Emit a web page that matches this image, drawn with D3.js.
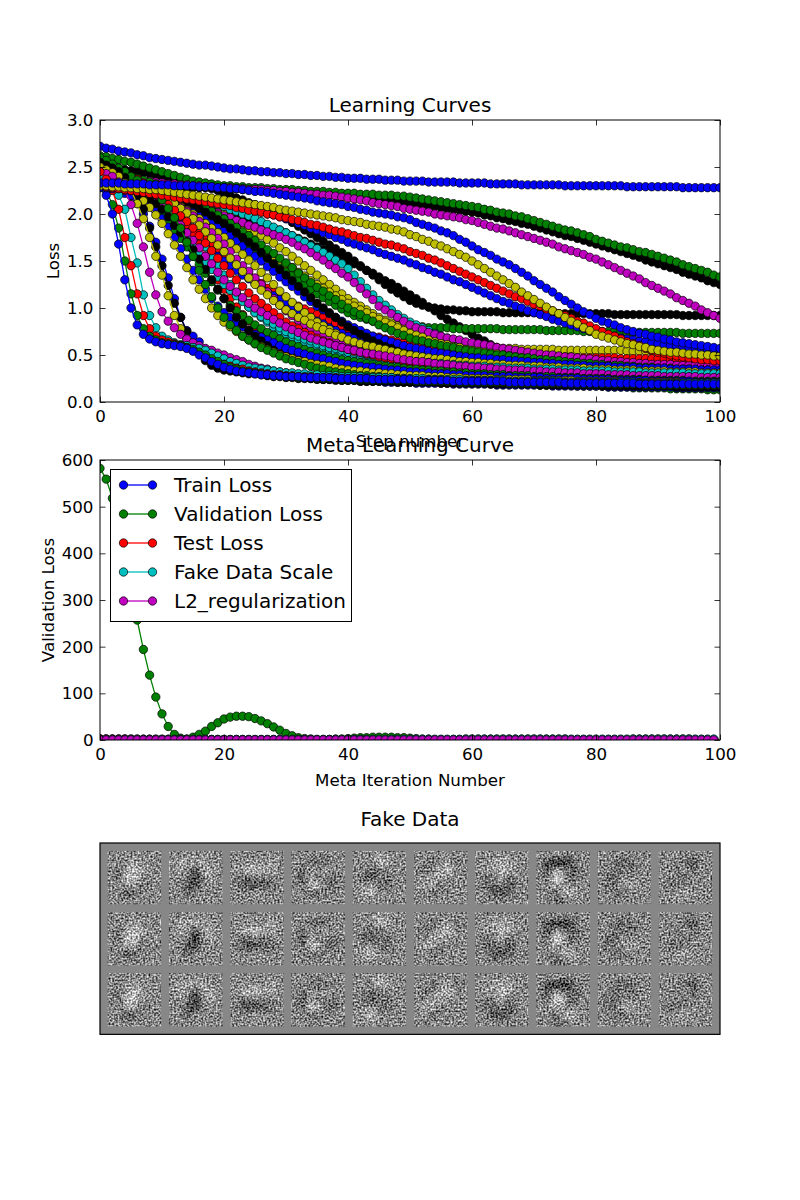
<!DOCTYPE html>
<html>
<head>
<meta charset="utf-8">
<script src="https://cdn.jsdelivr.net/npm/d3@7"></script>
<style>
body { margin: 0; background: #fff; }
text { font-family: "DejaVu Sans", sans-serif; fill: #000; }
</style>
</head>
<body>
<svg id="fig" width="800" height="1200"></svg>
<script>
// ---- Learning curves: one array per inner run, loss at each step 0..100
const curveA = [2.72,2.70,2.69,2.67,2.66,2.65,2.63,2.62,2.60,2.59,2.58,
2.57,2.56,2.55,2.54,2.53,2.52,2.52,2.51,2.50,2.49,
2.48,2.48,2.47,2.46,2.46,2.45,2.45,2.44,2.44,2.43,
2.43,2.42,2.42,2.41,2.41,2.40,2.40,2.39,2.39,2.38,
2.38,2.38,2.37,2.37,2.37,2.36,2.36,2.36,2.35,2.35,
2.35,2.35,2.34,2.34,2.34,2.34,2.34,2.33,2.33,2.33,
2.33,2.33,2.32,2.32,2.32,2.32,2.32,2.31,2.31,2.31,
2.31,2.31,2.31,2.31,2.30,2.30,2.30,2.30,2.30,2.30,
2.30,2.30,2.30,2.30,2.29,2.29,2.29,2.29,2.29,2.29,
2.29,2.29,2.29,2.28,2.28,2.28,2.28,2.28,2.28,2.28]
const curveB = [2.62,2.61,2.59,2.58,2.56,2.55,2.53,2.51,2.49,2.47,2.45,
2.43,2.41,2.39,2.37,2.35,2.34,2.33,2.32,2.31,2.30,
2.30,2.29,2.29,2.28,2.28,2.28,2.27,2.27,2.26,2.26,
2.26,2.25,2.25,2.24,2.24,2.24,2.23,2.23,2.22,2.22,
2.22,2.21,2.21,2.21,2.20,2.20,2.20,2.19,2.19,2.18,
2.17,2.16,2.15,2.14,2.13,2.12,2.11,2.10,2.09,2.08,
2.07,2.05,2.04,2.02,2.01,2.00,1.98,1.97,1.95,1.93,
1.91,1.89,1.87,1.85,1.83,1.82,1.80,1.78,1.76,1.73,
1.71,1.69,1.67,1.65,1.64,1.62,1.60,1.59,1.57,1.55,
1.53,1.51,1.49,1.46,1.44,1.42,1.40,1.38,1.35,1.33]
const curveC = [2.30,2.30,2.30,2.30,2.30,2.30,2.29,2.29,2.29,2.29,2.29,
2.29,2.29,2.28,2.28,2.28,2.28,2.28,2.27,2.27,2.27,
2.27,2.27,2.26,2.26,2.26,2.25,2.25,2.25,2.24,2.24,
2.24,2.24,2.23,2.23,2.22,2.22,2.22,2.21,2.21,2.20,
2.19,2.18,2.18,2.17,2.16,2.15,2.15,2.14,2.13,2.12,
2.11,2.10,2.09,2.08,2.07,2.06,2.05,2.04,2.03,2.02,
2.01,1.99,1.98,1.96,1.95,1.93,1.92,1.90,1.89,1.87,
1.85,1.83,1.81,1.79,1.77,1.76,1.74,1.72,1.70,1.68,
1.66,1.64,1.62,1.60,1.58,1.56,1.54,1.51,1.49,1.47,
1.45,1.43,1.41,1.38,1.36,1.34,1.32,1.29,1.27,1.25]
const curveD = [2.40,2.39,2.39,2.38,2.37,2.37,2.36,2.35,2.35,2.34,2.33,
2.32,2.32,2.31,2.31,2.30,2.30,2.29,2.29,2.28,2.28,
2.28,2.27,2.27,2.26,2.26,2.26,2.25,2.25,2.24,2.24,
2.23,2.23,2.22,2.21,2.21,2.20,2.20,2.19,2.18,2.17,
2.16,2.15,2.14,2.12,2.11,2.10,2.09,2.08,2.06,2.05,
2.04,2.03,2.02,2.00,1.99,1.98,1.97,1.96,1.94,1.93,
1.91,1.89,1.87,1.85,1.84,1.82,1.80,1.78,1.76,1.74,
1.72,1.70,1.68,1.65,1.63,1.61,1.59,1.57,1.54,1.52,
1.49,1.46,1.43,1.40,1.37,1.34,1.31,1.27,1.24,1.21,
1.18,1.15,1.11,1.08,1.05,1.02,0.98,0.95,0.92,0.89]
const curveE = [2.33,2.33,2.33,2.33,2.32,2.32,2.32,2.32,2.31,2.31,2.31,
2.31,2.30,2.30,2.30,2.30,2.29,2.29,2.29,2.28,2.28,
2.27,2.27,2.26,2.25,2.24,2.24,2.23,2.22,2.21,2.20,
2.19,2.18,2.17,2.16,2.14,2.13,2.12,2.11,2.10,2.08,
2.07,2.05,2.04,2.02,2.01,2.00,1.99,1.97,1.96,1.94,
1.91,1.89,1.87,1.85,1.82,1.80,1.77,1.73,1.70,1.66,
1.62,1.59,1.56,1.52,1.49,1.46,1.42,1.38,1.34,1.29,
1.25,1.21,1.17,1.12,1.08,1.04,1.00,0.96,0.93,0.89,
0.86,0.84,0.82,0.79,0.77,0.75,0.73,0.72,0.70,0.69,
0.67,0.66,0.64,0.63,0.62,0.61,0.60,0.59,0.58,0.57]
const curveF = [2.30,2.30,2.29,2.29,2.28,2.28,2.27,2.27,2.26,2.26,2.25,
2.24,2.23,2.22,2.21,2.20,2.19,2.18,2.17,2.16,2.15,
2.14,2.13,2.12,2.11,2.10,2.09,2.08,2.07,2.05,2.04,
2.03,2.02,2.01,2.00,1.99,1.98,1.97,1.96,1.94,1.93,
1.92,1.91,1.89,1.88,1.87,1.86,1.84,1.83,1.81,1.78,
1.76,1.73,1.71,1.68,1.66,1.63,1.60,1.57,1.54,1.50,
1.46,1.42,1.38,1.34,1.30,1.26,1.22,1.17,1.13,1.09,
1.05,1.01,0.97,0.94,0.90,0.86,0.83,0.79,0.76,0.72,
0.70,0.68,0.66,0.64,0.62,0.61,0.59,0.58,0.56,0.55,
0.54,0.53,0.53,0.52,0.51,0.51,0.50,0.50,0.49,0.49]
const curveG = [2.30,2.29,2.28,2.27,2.26,2.25,2.24,2.23,2.22,2.21,2.20,
2.19,2.18,2.17,2.16,2.15,2.14,2.13,2.12,2.11,2.10,
2.09,2.07,2.06,2.04,2.03,2.02,2.00,1.99,1.97,1.96,
1.94,1.93,1.91,1.89,1.88,1.86,1.84,1.82,1.81,1.79,
1.77,1.75,1.74,1.72,1.70,1.68,1.67,1.65,1.63,1.60,
1.58,1.56,1.53,1.51,1.48,1.45,1.42,1.39,1.36,1.33,
1.30,1.27,1.24,1.21,1.18,1.15,1.12,1.10,1.07,1.04,
1.02,0.99,0.97,0.94,0.92,0.89,0.86,0.84,0.81,0.78,
0.75,0.72,0.70,0.67,0.64,0.62,0.60,0.57,0.55,0.53,
0.52,0.50,0.49,0.48,0.47,0.46,0.45,0.45,0.44,0.44]
const curveH = [2.28,2.28,2.27,2.27,2.26,2.25,2.25,2.24,2.24,2.23,2.22,
2.21,2.20,2.19,2.18,2.17,2.16,2.15,2.14,2.13,2.12,
2.10,2.09,2.07,2.05,2.04,2.02,2.00,1.99,1.97,1.95,
1.93,1.90,1.88,1.85,1.83,1.80,1.78,1.75,1.73,1.70,
1.68,1.66,1.64,1.62,1.59,1.57,1.55,1.53,1.51,1.48,
1.46,1.43,1.41,1.38,1.36,1.33,1.30,1.28,1.25,1.22,
1.19,1.16,1.13,1.10,1.07,1.05,1.02,1.00,0.97,0.95,
0.93,0.91,0.88,0.86,0.84,0.82,0.80,0.78,0.76,0.74,
0.73,0.71,0.70,0.68,0.67,0.66,0.65,0.64,0.63,0.62,
0.61,0.60,0.60,0.59,0.58,0.58,0.57,0.56,0.56,0.55]
const curveI = [2.52,2.51,2.50,2.49,2.47,2.46,2.45,2.44,2.43,2.41,2.40,
2.39,2.38,2.36,2.35,2.33,2.32,2.30,2.28,2.25,2.22,
2.20,2.17,2.15,2.12,2.10,2.07,2.04,2.01,1.98,1.95,
1.91,1.87,1.83,1.79,1.75,1.71,1.67,1.63,1.59,1.55,
1.50,1.45,1.40,1.35,1.30,1.25,1.20,1.16,1.12,1.08,
1.05,1.03,1.01,1.00,0.99,0.98,0.98,0.97,0.97,0.96,
0.96,0.96,0.96,0.96,0.95,0.95,0.95,0.95,0.95,0.95,
0.95,0.95,0.94,0.94,0.94,0.94,0.94,0.94,0.94,0.94,
0.94,0.94,0.93,0.93,0.93,0.93,0.93,0.93,0.93,0.93,
0.93,0.93,0.93,0.92,0.92,0.92,0.92,0.92,0.92,0.92]
const curveJ = [2.35,2.34,2.33,2.32,2.31,2.30,2.28,2.27,2.25,2.22,2.20,
2.17,2.14,2.11,2.07,2.04,2.00,1.96,1.93,1.89,1.85,
1.80,1.76,1.71,1.67,1.62,1.58,1.54,1.49,1.45,1.40,
1.35,1.30,1.25,1.20,1.15,1.11,1.07,1.03,0.99,0.95,
0.92,0.90,0.88,0.86,0.84,0.83,0.82,0.81,0.81,0.80,
0.80,0.80,0.79,0.79,0.79,0.79,0.78,0.78,0.78,0.78,
0.78,0.78,0.78,0.78,0.77,0.77,0.77,0.77,0.77,0.77,
0.77,0.76,0.76,0.76,0.76,0.76,0.76,0.75,0.75,0.75,
0.75,0.75,0.75,0.75,0.74,0.74,0.74,0.74,0.74,0.74,
0.74,0.74,0.74,0.73,0.73,0.73,0.73,0.73,0.73,0.73]
const curveK = [2.35,2.35,2.34,2.34,2.33,2.32,2.31,2.30,2.29,2.27,2.25,
2.23,2.21,2.19,2.17,2.15,2.13,2.11,2.09,2.07,2.05,
2.03,2.00,1.98,1.95,1.93,1.90,1.88,1.85,1.83,1.80,
1.77,1.74,1.71,1.68,1.65,1.62,1.59,1.56,1.53,1.50,
1.47,1.44,1.40,1.37,1.33,1.29,1.26,1.22,1.18,1.14,
1.10,1.06,1.01,0.97,0.92,0.88,0.84,0.80,0.76,0.72,
0.68,0.65,0.61,0.58,0.55,0.52,0.50,0.48,0.46,0.45,
0.44,0.43,0.42,0.41,0.41,0.40,0.40,0.39,0.39,0.38,
0.38,0.38,0.37,0.37,0.37,0.36,0.36,0.36,0.36,0.35,
0.35,0.35,0.35,0.34,0.34,0.34,0.34,0.33,0.33,0.33]
const curveL = [2.30,2.30,2.29,2.28,2.27,2.26,2.25,2.24,2.23,2.21,2.20,
2.18,2.16,2.14,2.12,2.10,2.08,2.06,2.04,2.02,2.00,
1.97,1.93,1.89,1.85,1.81,1.77,1.73,1.69,1.64,1.60,
1.55,1.50,1.45,1.40,1.35,1.30,1.25,1.20,1.15,1.10,
1.06,1.02,0.98,0.94,0.90,0.87,0.84,0.81,0.78,0.75,
0.73,0.71,0.69,0.67,0.65,0.64,0.63,0.62,0.61,0.60,
0.59,0.59,0.58,0.58,0.57,0.57,0.57,0.56,0.56,0.56,
0.56,0.56,0.56,0.55,0.55,0.55,0.55,0.55,0.55,0.55,
0.55,0.55,0.55,0.55,0.54,0.54,0.54,0.54,0.54,0.54,
0.54,0.54,0.54,0.53,0.53,0.53,0.53,0.53,0.53,0.53]
const curveM = [2.55,2.53,2.50,2.47,2.44,2.40,2.36,2.31,2.26,2.21,2.15,
2.09,2.03,1.97,1.91,1.85,1.79,1.73,1.67,1.61,1.55,
1.50,1.45,1.40,1.35,1.30,1.26,1.21,1.17,1.12,1.08,
1.05,1.02,0.99,0.96,0.93,0.90,0.87,0.84,0.81,0.78,
0.76,0.74,0.72,0.70,0.69,0.67,0.66,0.64,0.63,0.62,
0.61,0.60,0.59,0.58,0.57,0.56,0.55,0.55,0.54,0.53,
0.53,0.52,0.52,0.51,0.51,0.50,0.50,0.50,0.49,0.49,
0.49,0.48,0.48,0.48,0.48,0.48,0.47,0.47,0.47,0.47,
0.47,0.47,0.47,0.46,0.46,0.46,0.46,0.46,0.46,0.46,
0.46,0.46,0.46,0.45,0.45,0.45,0.45,0.45,0.45,0.45]
const curveN = [2.28,2.27,2.26,2.24,2.22,2.19,2.16,2.13,2.09,2.05,2.00,
1.95,1.90,1.85,1.80,1.75,1.70,1.65,1.60,1.55,1.50,
1.45,1.40,1.35,1.31,1.26,1.22,1.17,1.13,1.09,1.05,
1.01,0.97,0.93,0.90,0.86,0.83,0.79,0.76,0.73,0.70,
0.68,0.65,0.63,0.61,0.59,0.57,0.55,0.53,0.52,0.50,
0.49,0.47,0.46,0.45,0.44,0.43,0.42,0.41,0.41,0.40,
0.39,0.39,0.38,0.38,0.37,0.37,0.36,0.36,0.35,0.35,
0.35,0.35,0.34,0.34,0.34,0.34,0.34,0.33,0.33,0.33,
0.33,0.33,0.32,0.32,0.32,0.32,0.32,0.31,0.31,0.31,
0.31,0.31,0.31,0.31,0.30,0.30,0.30,0.30,0.30,0.30]
const curveP = [2.35,2.34,2.33,2.32,2.31,2.30,2.29,2.28,2.27,2.26,2.25,
2.23,2.22,2.20,2.19,2.17,2.15,2.13,2.12,2.10,2.08,
2.05,2.03,2.00,1.98,1.95,1.92,1.89,1.86,1.83,1.80,
1.77,1.73,1.70,1.66,1.63,1.59,1.55,1.51,1.47,1.42,
1.35,1.28,1.21,1.14,1.08,1.03,0.98,0.93,0.89,0.85,
0.82,0.79,0.76,0.73,0.70,0.68,0.66,0.64,0.62,0.60,
0.59,0.57,0.56,0.55,0.54,0.53,0.52,0.51,0.50,0.48,
0.48,0.47,0.46,0.46,0.45,0.44,0.44,0.43,0.43,0.42,
0.42,0.41,0.41,0.41,0.40,0.40,0.40,0.40,0.39,0.39,
0.39,0.39,0.38,0.38,0.38,0.38,0.38,0.37,0.37,0.37]
const curveQ = [2.40,2.39,2.38,2.37,2.35,2.34,2.32,2.31,2.29,2.27,2.25,
2.22,2.20,2.17,2.14,2.12,2.09,2.06,2.04,2.01,1.98,
1.96,1.93,1.91,1.88,1.86,1.83,1.81,1.78,1.76,1.73,
1.70,1.66,1.63,1.59,1.55,1.51,1.46,1.42,1.37,1.33,
1.27,1.21,1.15,1.09,1.02,0.98,0.94,0.90,0.86,0.82,
0.79,0.77,0.74,0.72,0.70,0.68,0.67,0.66,0.64,0.63,
0.62,0.61,0.60,0.58,0.57,0.56,0.55,0.54,0.53,0.52,
0.51,0.50,0.50,0.49,0.48,0.48,0.47,0.46,0.46,0.45,
0.44,0.44,0.43,0.43,0.42,0.42,0.41,0.41,0.40,0.40,
0.40,0.40,0.39,0.39,0.39,0.39,0.38,0.38,0.38,0.38]
const curveR = [2.30,2.29,2.28,2.27,2.25,2.24,2.22,2.21,2.19,2.17,2.15,
2.12,2.09,2.06,2.03,2.00,1.97,1.94,1.91,1.88,1.85,
1.81,1.78,1.74,1.71,1.67,1.63,1.59,1.55,1.51,1.47,
1.43,1.38,1.34,1.29,1.25,1.21,1.17,1.13,1.09,1.05,
1.02,0.98,0.95,0.91,0.88,0.85,0.82,0.79,0.76,0.73,
0.71,0.69,0.66,0.64,0.62,0.61,0.59,0.58,0.56,0.55,
0.54,0.53,0.52,0.51,0.50,0.49,0.48,0.47,0.46,0.45,
0.44,0.44,0.43,0.42,0.41,0.41,0.40,0.39,0.39,0.38,
0.37,0.37,0.36,0.36,0.35,0.35,0.34,0.33,0.33,0.32,
0.32,0.31,0.31,0.31,0.30,0.30,0.29,0.29,0.28,0.28]
const curveS1 = [2.40,2.38,2.35,2.32,2.29,2.25,2.20,2.14,2.07,1.99,1.90,
1.79,1.67,1.55,1.43,1.30,1.20,1.10,1.00,0.92,0.85,
0.80,0.75,0.70,0.66,0.62,0.59,0.56,0.53,0.50,0.48,
0.46,0.44,0.43,0.41,0.40,0.39,0.38,0.36,0.35,0.34,
0.33,0.33,0.32,0.31,0.31,0.30,0.30,0.29,0.29,0.28,
0.28,0.28,0.27,0.27,0.27,0.26,0.26,0.26,0.25,0.25,
0.25,0.25,0.25,0.24,0.24,0.24,0.24,0.24,0.24,0.23,
0.23,0.23,0.23,0.23,0.23,0.23,0.22,0.22,0.22,0.22,
0.22,0.22,0.22,0.21,0.21,0.21,0.21,0.21,0.21,0.21,
0.21,0.21,0.21,0.20,0.20,0.20,0.20,0.20,0.20,0.20]
const curveS2 = [2.45,2.43,2.40,2.37,2.34,2.30,2.25,2.19,2.13,2.07,2.00,
1.92,1.83,1.74,1.65,1.55,1.46,1.37,1.28,1.19,1.10,
1.03,0.97,0.92,0.87,0.82,0.78,0.74,0.71,0.67,0.64,
0.61,0.59,0.56,0.54,0.52,0.50,0.48,0.47,0.45,0.44,
0.43,0.42,0.41,0.40,0.39,0.38,0.37,0.37,0.36,0.35,
0.35,0.34,0.34,0.33,0.33,0.32,0.32,0.31,0.31,0.30,
0.30,0.30,0.29,0.29,0.29,0.28,0.28,0.28,0.28,0.27,
0.27,0.27,0.27,0.26,0.26,0.26,0.26,0.25,0.25,0.25,
0.25,0.25,0.24,0.24,0.24,0.24,0.24,0.23,0.23,0.23,
0.23,0.23,0.23,0.23,0.22,0.22,0.22,0.22,0.22,0.22]
const curveS3 = [2.50,2.48,2.46,2.44,2.41,2.38,2.33,2.28,2.22,2.16,2.10,
2.03,1.95,1.88,1.80,1.72,1.64,1.55,1.47,1.38,1.30,
1.23,1.17,1.11,1.05,1.00,0.96,0.92,0.88,0.84,0.80,
0.77,0.74,0.71,0.68,0.66,0.64,0.62,0.60,0.58,0.56,
0.55,0.53,0.52,0.51,0.50,0.49,0.48,0.46,0.45,0.44,
0.43,0.43,0.42,0.41,0.40,0.40,0.39,0.38,0.38,0.37,
0.37,0.36,0.36,0.35,0.35,0.34,0.34,0.34,0.33,0.33,
0.33,0.32,0.32,0.32,0.31,0.31,0.31,0.30,0.30,0.30,
0.30,0.29,0.29,0.29,0.29,0.28,0.28,0.28,0.28,0.28,
0.27,0.27,0.27,0.27,0.27,0.27,0.26,0.26,0.26,0.26]
const curveS4 = [2.40,2.38,2.36,2.34,2.31,2.28,2.24,2.20,2.16,2.11,2.05,
1.97,1.88,1.80,1.71,1.62,1.52,1.41,1.30,1.20,1.10,
1.00,0.90,0.83,0.76,0.70,0.65,0.60,0.55,0.51,0.48,
0.46,0.44,0.42,0.40,0.38,0.37,0.36,0.34,0.33,0.32,
0.31,0.31,0.30,0.29,0.29,0.28,0.28,0.27,0.27,0.26,
0.26,0.26,0.25,0.25,0.25,0.24,0.24,0.24,0.23,0.23,
0.23,0.23,0.23,0.22,0.22,0.22,0.22,0.22,0.22,0.21,
0.21,0.21,0.21,0.21,0.21,0.21,0.20,0.20,0.20,0.20,
0.20,0.20,0.20,0.20,0.20,0.19,0.19,0.19,0.19,0.19,
0.19,0.19,0.19,0.19,0.19,0.18,0.18,0.18,0.18,0.18]
const curveS5 = [2.45,2.43,2.41,2.39,2.37,2.35,2.32,2.28,2.24,2.20,2.15,
2.10,2.04,1.98,1.92,1.85,1.77,1.69,1.61,1.53,1.45,
1.37,1.30,1.23,1.16,1.10,1.05,1.00,0.95,0.90,0.85,
0.81,0.78,0.74,0.71,0.68,0.65,0.63,0.60,0.58,0.56,
0.54,0.53,0.51,0.50,0.48,0.47,0.46,0.45,0.43,0.42,
0.41,0.41,0.40,0.39,0.38,0.38,0.37,0.36,0.36,0.35,
0.35,0.34,0.34,0.33,0.33,0.32,0.32,0.32,0.31,0.31,
0.31,0.30,0.30,0.30,0.29,0.29,0.29,0.29,0.28,0.28,
0.28,0.28,0.27,0.27,0.27,0.27,0.26,0.26,0.26,0.26,
0.26,0.25,0.25,0.25,0.25,0.25,0.24,0.24,0.24,0.24]
const curveS6 = [2.35,2.33,2.31,2.29,2.27,2.25,2.21,2.16,2.10,2.03,1.95,
1.86,1.75,1.63,1.52,1.40,1.30,1.20,1.10,1.02,0.95,
0.90,0.85,0.80,0.76,0.72,0.69,0.66,0.63,0.60,0.57,
0.55,0.53,0.51,0.49,0.47,0.46,0.44,0.43,0.41,0.40,
0.39,0.38,0.37,0.37,0.36,0.35,0.34,0.34,0.33,0.32,
0.32,0.31,0.31,0.30,0.30,0.30,0.29,0.29,0.28,0.28,
0.28,0.28,0.27,0.27,0.27,0.27,0.26,0.26,0.26,0.26,
0.26,0.25,0.25,0.25,0.25,0.25,0.25,0.24,0.24,0.24,
0.24,0.24,0.23,0.23,0.23,0.23,0.23,0.23,0.22,0.22,
0.22,0.22,0.22,0.22,0.22,0.21,0.21,0.21,0.21,0.21]
const curveS7 = [2.40,2.38,2.36,2.34,2.32,2.30,2.26,2.21,2.16,2.11,2.05,
1.97,1.89,1.81,1.73,1.65,1.57,1.49,1.41,1.33,1.25,
1.19,1.13,1.07,1.01,0.95,0.91,0.87,0.83,0.79,0.75,
0.72,0.70,0.67,0.65,0.62,0.60,0.58,0.57,0.55,0.53,
0.52,0.51,0.50,0.49,0.48,0.47,0.46,0.45,0.44,0.43,
0.43,0.42,0.42,0.41,0.41,0.40,0.40,0.39,0.39,0.38,
0.38,0.38,0.37,0.37,0.37,0.36,0.36,0.36,0.36,0.35,
0.35,0.35,0.35,0.34,0.34,0.34,0.34,0.33,0.33,0.33,
0.33,0.33,0.32,0.32,0.32,0.32,0.32,0.31,0.31,0.31,
0.31,0.31,0.31,0.31,0.30,0.30,0.30,0.30,0.30,0.30]
const curveS8 = [2.45,2.43,2.41,2.39,2.37,2.35,2.32,2.29,2.26,2.23,2.20,
2.16,2.11,2.06,2.01,1.95,1.88,1.81,1.74,1.67,1.60,
1.53,1.46,1.39,1.32,1.25,1.19,1.14,1.08,1.03,0.98,
0.94,0.90,0.87,0.83,0.80,0.77,0.74,0.71,0.69,0.66,
0.64,0.62,0.60,0.59,0.57,0.56,0.54,0.53,0.51,0.50,
0.49,0.48,0.47,0.46,0.46,0.45,0.44,0.43,0.43,0.42,
0.42,0.41,0.41,0.40,0.40,0.39,0.39,0.39,0.38,0.38,
0.38,0.37,0.37,0.37,0.36,0.36,0.36,0.36,0.35,0.35,
0.35,0.35,0.34,0.34,0.34,0.34,0.33,0.33,0.33,0.33,
0.33,0.32,0.32,0.32,0.32,0.32,0.31,0.31,0.31,0.31]
const curveF1 = [2.30,2.20,2.00,1.68,1.30,1.00,0.82,0.72,0.67,0.64,0.62,
0.61,0.60,0.59,0.57,0.54,0.50,0.47,0.43,0.40,0.37,
0.35,0.33,0.32,0.31,0.30,0.29,0.29,0.28,0.28,0.27,
0.27,0.27,0.26,0.26,0.26,0.26,0.26,0.25,0.25,0.25,
0.25,0.25,0.25,0.24,0.24,0.24,0.24,0.24,0.24,0.24,
0.23,0.23,0.23,0.23,0.23,0.23,0.22,0.22,0.22,0.22,
0.22,0.22,0.22,0.22,0.22,0.21,0.21,0.21,0.21,0.21,
0.21,0.21,0.21,0.21,0.20,0.20,0.20,0.20,0.20,0.20,
0.20,0.20,0.20,0.20,0.20,0.20,0.19,0.19,0.19,0.19,
0.19,0.19,0.19,0.19,0.19,0.19,0.19,0.19,0.19,0.19]
const curveF2 = [2.32,2.25,2.10,1.85,1.50,1.15,0.92,0.78,0.70,0.66,0.63,
0.62,0.61,0.60,0.58,0.56,0.53,0.50,0.46,0.43,0.40,
0.37,0.35,0.33,0.32,0.31,0.30,0.29,0.28,0.28,0.27,
0.27,0.26,0.26,0.26,0.25,0.25,0.25,0.25,0.24,0.24,
0.24,0.24,0.24,0.23,0.23,0.23,0.23,0.23,0.23,0.23,
0.22,0.22,0.22,0.22,0.22,0.22,0.22,0.21,0.21,0.21,
0.21,0.21,0.21,0.21,0.21,0.20,0.20,0.20,0.20,0.20,
0.20,0.20,0.20,0.20,0.20,0.19,0.19,0.19,0.19,0.19,
0.19,0.19,0.19,0.19,0.19,0.19,0.19,0.18,0.18,0.18,
0.18,0.18,0.18,0.18,0.18,0.18,0.18,0.18,0.18,0.18]
const curveF3 = [2.45,2.37,2.25,2.05,1.75,1.45,1.15,0.92,0.78,0.70,0.66,
0.64,0.62,0.60,0.58,0.55,0.52,0.48,0.45,0.42,0.40,
0.38,0.36,0.35,0.33,0.32,0.31,0.30,0.29,0.29,0.28,
0.28,0.27,0.27,0.27,0.26,0.26,0.26,0.26,0.25,0.25,
0.25,0.25,0.25,0.24,0.24,0.24,0.24,0.24,0.24,0.23,
0.23,0.23,0.23,0.23,0.23,0.22,0.22,0.22,0.22,0.22,
0.22,0.22,0.22,0.21,0.21,0.21,0.21,0.21,0.21,0.21,
0.21,0.21,0.20,0.20,0.20,0.20,0.20,0.20,0.20,0.20,
0.20,0.20,0.20,0.19,0.19,0.19,0.19,0.19,0.19,0.19,
0.19,0.19,0.19,0.18,0.18,0.18,0.18,0.18,0.18,0.18]
const curveF4 = [2.40,2.36,2.30,2.20,2.05,1.75,1.48,1.14,0.92,0.79,0.70,
0.66,0.63,0.61,0.60,0.58,0.57,0.55,0.52,0.49,0.46,
0.43,0.41,0.39,0.37,0.36,0.35,0.34,0.33,0.32,0.31,
0.31,0.30,0.30,0.29,0.29,0.28,0.28,0.28,0.27,0.27,
0.27,0.27,0.26,0.26,0.26,0.26,0.26,0.25,0.25,0.25,
0.25,0.25,0.24,0.24,0.24,0.24,0.24,0.24,0.23,0.23,
0.23,0.23,0.23,0.23,0.23,0.22,0.22,0.22,0.22,0.22,
0.22,0.22,0.22,0.22,0.21,0.21,0.21,0.21,0.21,0.21,
0.21,0.21,0.21,0.21,0.21,0.21,0.20,0.20,0.20,0.20,
0.20,0.20,0.20,0.20,0.20,0.20,0.20,0.20,0.20,0.20]
const curveF5 = [2.45,2.43,2.40,2.34,2.25,2.10,1.90,1.65,1.38,1.14,0.96,
0.86,0.79,0.72,0.67,0.63,0.60,0.57,0.55,0.52,0.50,
0.47,0.45,0.43,0.40,0.38,0.36,0.35,0.33,0.32,0.31,
0.30,0.29,0.29,0.28,0.28,0.27,0.27,0.27,0.26,0.26,
0.26,0.26,0.25,0.25,0.25,0.25,0.25,0.25,0.24,0.24,
0.24,0.24,0.24,0.24,0.24,0.23,0.23,0.23,0.23,0.23,
0.23,0.23,0.23,0.22,0.22,0.22,0.22,0.22,0.22,0.22,
0.22,0.22,0.22,0.21,0.21,0.21,0.21,0.21,0.21,0.21,
0.21,0.21,0.21,0.21,0.21,0.21,0.20,0.20,0.20,0.20,
0.20,0.20,0.20,0.20,0.20,0.20,0.20,0.20,0.20,0.20]
const curveY2 = [2.50,2.47,2.44,2.40,2.33,2.25,2.11,1.95,1.75,1.55,1.35,
1.13,0.92,0.78,0.67,0.58,0.52,0.47,0.44,0.42,0.40,
0.39,0.37,0.36,0.35,0.33,0.32,0.31,0.30,0.30,0.29,
0.29,0.28,0.28,0.27,0.27,0.26,0.26,0.26,0.25,0.25,
0.25,0.25,0.25,0.24,0.24,0.24,0.24,0.24,0.24,0.23,
0.23,0.23,0.23,0.23,0.23,0.23,0.22,0.22,0.22,0.22,
0.22,0.22,0.22,0.22,0.21,0.21,0.21,0.21,0.21,0.21,
0.21,0.21,0.21,0.21,0.21,0.20,0.20,0.20,0.20,0.20,
0.20,0.20,0.20,0.20,0.20,0.20,0.20,0.19,0.19,0.19,
0.19,0.19,0.19,0.19,0.19,0.19,0.19,0.19,0.19,0.19]
const curveK2 = [2.55,2.52,2.49,2.45,2.39,2.31,2.20,2.05,1.85,1.65,1.45,
1.24,1.05,0.90,0.75,0.62,0.52,0.44,0.39,0.36,0.34,
0.33,0.32,0.31,0.30,0.30,0.29,0.28,0.27,0.27,0.26,
0.26,0.25,0.25,0.25,0.24,0.24,0.24,0.23,0.23,0.23,
0.23,0.22,0.22,0.22,0.22,0.22,0.22,0.21,0.21,0.21,
0.21,0.21,0.21,0.21,0.20,0.20,0.20,0.20,0.20,0.20,
0.20,0.20,0.19,0.19,0.19,0.19,0.19,0.19,0.19,0.19,
0.18,0.18,0.18,0.18,0.18,0.18,0.18,0.18,0.18,0.18,
0.17,0.17,0.17,0.17,0.17,0.17,0.17,0.17,0.17,0.17,
0.17,0.17,0.16,0.16,0.16,0.16,0.16,0.16,0.16,0.16]
const curveB3 = [2.35,2.34,2.32,2.30,2.26,2.20,2.11,2.00,1.87,1.70,1.52,
1.32,1.10,0.90,0.76,0.70,0.64,0.56,0.48,0.44,0.41,
0.39,0.37,0.35,0.33,0.31,0.30,0.29,0.28,0.28,0.27,
0.27,0.26,0.26,0.25,0.25,0.24,0.24,0.24,0.23,0.23,
0.23,0.22,0.22,0.22,0.22,0.21,0.21,0.21,0.21,0.21,
0.20,0.20,0.20,0.20,0.20,0.20,0.19,0.19,0.19,0.19,
0.19,0.19,0.19,0.18,0.18,0.18,0.18,0.18,0.18,0.18,
0.18,0.18,0.17,0.17,0.17,0.17,0.17,0.17,0.17,0.17,
0.17,0.16,0.16,0.16,0.16,0.16,0.16,0.16,0.16,0.16,
0.16,0.16,0.15,0.15,0.15,0.15,0.15,0.15,0.15,0.15]
const curveG3 = [2.60,2.57,2.53,2.49,2.45,2.40,2.36,2.31,2.26,2.21,2.15,
2.06,1.96,1.85,1.70,1.55,1.40,1.25,1.12,1.00,0.90,
0.82,0.76,0.70,0.66,0.62,0.58,0.55,0.52,0.49,0.46,
0.44,0.42,0.40,0.38,0.36,0.35,0.33,0.32,0.31,0.30,
0.29,0.28,0.28,0.27,0.27,0.26,0.26,0.25,0.25,0.24,
0.24,0.23,0.23,0.23,0.22,0.22,0.22,0.21,0.21,0.21,
0.21,0.20,0.20,0.20,0.20,0.19,0.19,0.19,0.19,0.19,
0.18,0.18,0.18,0.18,0.18,0.18,0.17,0.17,0.17,0.17,
0.17,0.16,0.16,0.16,0.16,0.15,0.15,0.15,0.15,0.15,
0.15,0.14,0.14,0.14,0.14,0.14,0.14,0.13,0.13,0.13]
const curveR3 = [2.55,2.52,2.49,2.46,2.43,2.40,2.37,2.33,2.29,2.25,2.20,
2.13,2.05,1.97,1.89,1.80,1.68,1.55,1.42,1.30,1.20,
1.10,1.01,0.93,0.86,0.80,0.75,0.70,0.65,0.61,0.57,
0.54,0.51,0.48,0.45,0.43,0.41,0.39,0.38,0.36,0.35,
0.34,0.33,0.32,0.31,0.31,0.30,0.29,0.29,0.28,0.28,
0.27,0.27,0.26,0.26,0.26,0.25,0.25,0.25,0.24,0.24,
0.24,0.24,0.23,0.23,0.23,0.23,0.22,0.22,0.22,0.22,
0.22,0.21,0.21,0.21,0.21,0.21,0.21,0.20,0.20,0.20,
0.20,0.20,0.19,0.19,0.19,0.19,0.19,0.19,0.18,0.18,
0.18,0.18,0.18,0.18,0.18,0.17,0.17,0.17,0.17,0.17]
const curveC3 = [2.45,2.43,2.41,2.39,2.37,2.35,2.32,2.28,2.24,2.20,2.15,
2.09,2.03,1.97,1.91,1.85,1.75,1.65,1.55,1.45,1.35,
1.25,1.15,1.08,1.01,0.95,0.90,0.85,0.80,0.76,0.72,
0.69,0.66,0.63,0.60,0.58,0.56,0.54,0.52,0.50,0.48,
0.47,0.46,0.44,0.43,0.42,0.41,0.40,0.40,0.39,0.38,
0.38,0.37,0.37,0.36,0.36,0.35,0.35,0.34,0.34,0.33,
0.33,0.33,0.32,0.32,0.32,0.31,0.31,0.31,0.30,0.30,
0.30,0.30,0.29,0.29,0.29,0.29,0.29,0.28,0.28,0.28,
0.28,0.28,0.27,0.27,0.27,0.27,0.27,0.27,0.26,0.26,
0.26,0.26,0.26,0.26,0.26,0.25,0.25,0.25,0.25,0.25]
const curveM3 = [2.50,2.47,2.44,2.41,2.38,2.35,2.32,2.29,2.26,2.23,2.20,
2.16,2.12,2.07,2.03,1.98,1.92,1.86,1.80,1.74,1.68,
1.60,1.52,1.45,1.39,1.32,1.25,1.17,1.10,1.03,0.97,
0.92,0.87,0.82,0.78,0.74,0.70,0.67,0.64,0.61,0.58,
0.56,0.54,0.52,0.50,0.48,0.47,0.46,0.44,0.43,0.42,
0.41,0.40,0.39,0.39,0.38,0.37,0.37,0.36,0.36,0.35,
0.35,0.34,0.34,0.33,0.33,0.32,0.32,0.31,0.31,0.30,
0.30,0.30,0.29,0.29,0.29,0.28,0.28,0.28,0.27,0.27,
0.27,0.27,0.26,0.26,0.26,0.26,0.26,0.25,0.25,0.25,
0.25,0.25,0.25,0.25,0.24,0.24,0.24,0.24,0.24,0.24]
const curveY3 = [2.40,2.38,2.36,2.34,2.32,2.30,2.28,2.26,2.23,2.21,2.18,
2.15,2.11,2.08,2.04,2.00,1.95,1.90,1.85,1.80,1.75,
1.69,1.63,1.57,1.51,1.45,1.38,1.32,1.25,1.18,1.12,
1.06,1.01,0.95,0.90,0.85,0.81,0.77,0.73,0.69,0.65,
0.62,0.59,0.57,0.54,0.52,0.50,0.49,0.47,0.46,0.45,
0.44,0.43,0.42,0.41,0.41,0.40,0.40,0.39,0.39,0.38,
0.38,0.37,0.37,0.37,0.36,0.36,0.35,0.35,0.35,0.34,
0.34,0.34,0.33,0.33,0.33,0.32,0.32,0.32,0.31,0.31,
0.31,0.31,0.30,0.30,0.30,0.30,0.30,0.29,0.29,0.29,
0.29,0.29,0.29,0.29,0.28,0.28,0.28,0.28,0.28,0.28]
const curveK3 = [2.40,2.39,2.38,2.37,2.36,2.35,2.33,2.31,2.29,2.27,2.25,
2.22,2.19,2.16,2.13,2.10,2.06,2.02,1.98,1.94,1.90,
1.85,1.80,1.75,1.70,1.65,1.59,1.53,1.47,1.41,1.35,
1.29,1.23,1.17,1.11,1.05,1.00,0.95,0.90,0.85,0.80,
0.76,0.72,0.69,0.65,0.62,0.59,0.57,0.54,0.52,0.50,
0.48,0.46,0.45,0.43,0.42,0.41,0.40,0.39,0.38,0.37,
0.36,0.35,0.35,0.34,0.33,0.33,0.32,0.31,0.31,0.30,
0.30,0.29,0.29,0.28,0.28,0.28,0.27,0.27,0.26,0.26,
0.26,0.26,0.25,0.25,0.25,0.25,0.24,0.24,0.24,0.24,
0.24,0.23,0.23,0.23,0.23,0.23,0.22,0.22,0.22,0.22]
const curveB4 = [2.30,2.29,2.28,2.27,2.26,2.25,2.24,2.23,2.21,2.20,2.18,
2.16,2.13,2.11,2.08,2.05,2.01,1.96,1.92,1.87,1.82,
1.77,1.71,1.66,1.60,1.55,1.50,1.44,1.39,1.33,1.28,
1.23,1.18,1.12,1.07,1.02,0.98,0.94,0.90,0.86,0.82,
0.79,0.76,0.73,0.70,0.68,0.66,0.64,0.62,0.60,0.58,
0.57,0.56,0.54,0.53,0.52,0.51,0.50,0.49,0.48,0.47,
0.47,0.46,0.46,0.45,0.45,0.44,0.44,0.43,0.43,0.42,
0.42,0.41,0.41,0.40,0.40,0.40,0.39,0.39,0.38,0.38,
0.38,0.38,0.37,0.37,0.37,0.37,0.36,0.36,0.36,0.36,
0.36,0.35,0.35,0.35,0.35,0.35,0.34,0.34,0.34,0.34]
const curveG4 = [2.50,2.48,2.46,2.44,2.42,2.40,2.38,2.36,2.34,2.32,2.30,
2.27,2.24,2.21,2.18,2.15,2.11,2.07,2.03,1.99,1.95,
1.90,1.86,1.81,1.77,1.72,1.67,1.62,1.58,1.53,1.48,
1.43,1.37,1.32,1.27,1.22,1.18,1.13,1.09,1.04,1.00,
0.96,0.93,0.89,0.86,0.82,0.79,0.76,0.73,0.71,0.68,
0.66,0.65,0.63,0.62,0.60,0.59,0.58,0.56,0.55,0.54,
0.53,0.52,0.51,0.50,0.50,0.49,0.48,0.47,0.47,0.46,
0.45,0.45,0.44,0.44,0.43,0.42,0.42,0.41,0.41,0.40,
0.40,0.39,0.39,0.39,0.38,0.38,0.37,0.37,0.37,0.36,
0.36,0.36,0.35,0.35,0.35,0.34,0.34,0.34,0.33,0.33]

// draw order and matplotlib colour code of each run
const curveSeries = [curveI, curveC, curveB, curveD, curveK, curveJ, curveL, curveM, curveN,
  curveP, curveQ, curveR, curveG4, curveB4, curveK3, curveY3, curveM3, curveC3, curveR3,
  curveS8, curveS7, curveS5, curveS3, curveS2, curveS6, curveS4, curveS1,
  curveG3, curveB3, curveK2, curveY2, curveF5, curveF4, curveF3, curveF2, curveF1,
  curveH, curveG, curveF, curveE, curveA]
const curveColors = ['k','k','g','m','k','g','y','r','b',
  'c','m','y','g','b','k','y','m','c','r',
  'y','c','r','m','g','b','k','y',
  'g','b','k','y','m','c','r','g','b',
  'b','r','y','b','b']

const stepTicks = [0, 20, 40, 60, 80, 100]
const lossTicks = [0, 0.5, 1, 1.5, 2, 2.5, 3]

// ---- Meta learning curve, one value per meta iteration 0..99
const metaNames = ['Train Loss', 'Validation Loss', 'Test Loss', 'Fake Data Scale', 'L2_regularization']
const metaColors = ['b', 'g', 'r', 'c', 'm']
const trainLoss = [2.31,2.25,2.18,2.10,2.01,1.92,1.84,1.75,1.67,1.59,
1.51,1.44,1.37,1.30,1.24,1.18,1.12,1.07,1.02,0.97,
0.93,0.89,0.85,0.81,0.78,0.75,0.72,0.69,0.67,0.64,
0.62,0.60,0.58,0.56,0.55,0.53,0.52,0.50,0.49,0.48,
0.47,0.46,0.45,0.44,0.43,0.42,0.41,0.41,0.40,0.39,
0.39,0.38,0.38,0.37,0.37,0.36,0.36,0.35,0.35,0.35,
0.34,0.34,0.34,0.33,0.33,0.33,0.32,0.32,0.32,0.32,
0.31,0.31,0.31,0.31,0.30,0.30,0.30,0.30,0.30,0.29,
0.29,0.29,0.29,0.29,0.29,0.28,0.28,0.28,0.28,0.28,
0.28,0.28,0.27,0.27,0.27,0.27,0.27,0.27,0.27,0.27]
const validationLoss = [582,559,518,468,410,335,257,194,139,92,
56,29,12,4,2,6,12,19,29,37,
45,49,51,51,50,46,41,35,28,21,
14,9,5,3,2,1,1,1,2,2,
3,4,5,5,6,6,6,6,5,5,
4,3,2,2,1,1,1,1,1,2,
2,2,2,2,2,2,2,2,2,2,
2,2,2,2,2,2,1,1,1,1,
1,1,1,1,1,1,2,2,2,2,
2,2,2,2,2,2,1,1,1,1]
const testLoss = [2.33,2.27,2.20,2.12,2.03,1.94,1.86,1.77,1.69,1.61,
1.53,1.46,1.39,1.32,1.26,1.20,1.14,1.09,1.04,0.99,
0.95,0.91,0.87,0.83,0.80,0.77,0.74,0.71,0.69,0.66,
0.64,0.62,0.60,0.58,0.57,0.55,0.54,0.52,0.51,0.50,
0.49,0.48,0.47,0.46,0.45,0.44,0.43,0.43,0.42,0.41,
0.41,0.40,0.40,0.39,0.39,0.38,0.38,0.37,0.37,0.37,
0.36,0.36,0.36,0.35,0.35,0.35,0.34,0.34,0.34,0.34,
0.33,0.33,0.33,0.33,0.32,0.32,0.32,0.32,0.32,0.31,
0.31,0.31,0.31,0.31,0.31,0.30,0.30,0.30,0.30,0.30,
0.30,0.30,0.29,0.29,0.29,0.29,0.29,0.29,0.29,0.29]
const fakeDataScale = [1.00,1.01,1.02,1.03,1.04,1.05,1.06,1.07,1.08,1.09,
1.10,1.11,1.12,1.13,1.14,1.15,1.16,1.17,1.18,1.19,
1.20,1.21,1.22,1.23,1.24,1.25,1.26,1.27,1.28,1.29,
1.30,1.31,1.32,1.33,1.34,1.35,1.36,1.37,1.38,1.39,
1.40,1.41,1.42,1.43,1.44,1.45,1.46,1.47,1.48,1.49,
1.50,1.51,1.52,1.53,1.54,1.55,1.56,1.57,1.58,1.59,
1.60,1.61,1.62,1.63,1.64,1.65,1.66,1.67,1.68,1.69,
1.70,1.71,1.72,1.73,1.74,1.75,1.76,1.77,1.78,1.79,
1.80,1.81,1.82,1.83,1.84,1.85,1.86,1.87,1.88,1.89,
1.90,1.91,1.92,1.93,1.94,1.95,1.96,1.97,1.98,1.99]
const l2Regularization = [0.010,0.010,0.010,0.010,0.010,0.010,0.010,0.010,0.010,0.010,
0.010,0.010,0.010,0.010,0.010,0.011,0.011,0.011,0.011,0.011,
0.011,0.011,0.011,0.011,0.011,0.011,0.011,0.011,0.011,0.011,
0.012,0.012,0.012,0.012,0.012,0.012,0.012,0.012,0.012,0.012,
0.012,0.012,0.012,0.012,0.012,0.013,0.013,0.013,0.013,0.013,
0.013,0.013,0.013,0.013,0.013,0.013,0.013,0.013,0.013,0.013,
0.014,0.014,0.014,0.014,0.014,0.014,0.014,0.014,0.014,0.014,
0.014,0.014,0.014,0.014,0.014,0.015,0.015,0.015,0.015,0.015,
0.015,0.015,0.015,0.015,0.015,0.015,0.015,0.015,0.015,0.015,
0.016,0.016,0.016,0.016,0.016,0.016,0.016,0.016,0.016,0.016]
const metaSeries = [trainLoss, validationLoss, testLoss, fakeDataScale, l2Regularization]
const metaXTicks = [0, 20, 40, 60, 80, 100]
const metaYTicks = [0, 100, 200, 300, 400, 500, 600]

// ---- Fake data: coarse 7x7 brightness of each generated digit (-3 dark .. 3 bright)
const fakeDigits = [
  [0,0,0,0,0,0,0, 0,0,0,1,0,0,0, 0,-1,1,2,1,0,0, 0,-1,2,2,0,0,0, 0,0,1,1,-1,0,0, 0,0,-2,-1,0,0,0, 0,0,0,0,0,0,0],
  [0,0,0,0,0,0,0, 0,1,1,1,1,0,0, 0,1,0,-2,1,1,0, 0,0,0,-3,0,1,0, 0,0,-2,-2,0,0,0, 0,0,-1,0,0,0,0, 0,0,0,0,0,0,0],
  [0,0,0,0,0,0,0, 0,0,0,0,0,1,0, 0,1,2,2,1,1,0, 0,-1,-1,0,-1,0,0, 0,-1,-2,-2,-1,-1,0, 0,0,0,1,0,0,0, 0,0,0,0,0,0,0],
  [0,0,0,0,0,0,0, 0,0,-1,-1,-1,0,0, 0,-1,1,0,1,0,0, 0,-2,1,-1,0,-1,0, 0,-1,2,2,-1,-1,0, 0,0,-1,-1,0,0,0, 0,0,0,0,0,0,0],
  [0,0,0,1,0,0,0, 0,0,0,2,1,0,0, 0,0,-1,-1,0,0,0, 0,-1,-2,0,-1,0,0, 0,0,1,-1,-1,0,0, 0,1,2,0,0,0,0, 0,0,0,0,0,0,0],
  [0,0,0,0,0,0,0, 0,0,-1,0,1,-1,0, 0,-1,0,1,2,0,0, 0,0,1,1,0,0,0, 0,1,1,-1,0,0,0, 0,0,-1,0,0,0,0, 0,0,0,0,0,0,0],
  [0,0,0,0,0,0,0, 0,0,1,1,1,0,0, 0,1,0,2,1,0,0, 0,-1,0,1,-1,0,0, 0,-1,-1,0,-2,0,0, 0,0,-2,-2,-1,0,0, 0,0,0,0,0,0,0],
  [0,0,1,0,0,0,0, 0,-2,-3,-3,-2,0,0, 0,-2,1,0,-1,-1,0, 0,-1,3,2,-2,0,0, 0,0,1,0,0,0,0, 0,0,-1,1,2,0,0, 0,0,-1,-1,0,0,0],
  [0,0,0,0,0,0,0, 0,0,-1,-1,-1,0,0, 0,0,-1,0,-1,0,0, 0,-1,-1,0,0,0,0, 0,-1,0,1,1,0,0, 0,0,-1,-1,0,0,0, 0,0,0,0,0,0,0],
  [0,0,0,0,0,0,0, 0,0,0,-1,-2,0,0, 0,0,-1,1,-1,0,0, 0,0,0,-1,0,0,0, 0,-1,-1,0,0,0,0, 0,0,1,1,0,0,0, 0,0,0,0,0,0,0]
]
const fakeRows = [0, 1, 2]

const mpl = { b: '#0000ff', g: '#008000', r: '#ff0000', c: '#00bfbf', m: '#bf00bf', y: '#bfbf00', k: '#000000' }
const tickFont = 16.7
const titleFont = 20

const svg = d3.select('#fig')
const defs = svg.append('defs')

// frame, inward ticks on all four sides, like the classic matplotlib style
function drawFrame(x, y, xTicks, yTicks, yFmt) {
  const [l, r] = x.range()
  const [b, t] = y.range()
  const g = svg.append('g')
  const styleAxis = sel => {
    sel.select('.domain').remove()
    sel.selectAll('.tick line').attr('stroke', '#000').attr('stroke-width', 0.8)
    sel.selectAll('text').attr('font-size', tickFont).attr('font-family', 'DejaVu Sans')
  }
  g.append('g').attr('transform', `translate(0,${b})`)
    .call(d3.axisBottom(x).tickValues(xTicks).tickSizeInner(-5.5).tickSizeOuter(0).tickPadding(7.8).tickFormat(d3.format('d')))
    .call(styleAxis)
  g.append('g').attr('transform', `translate(0,${t})`)
    .call(d3.axisTop(x).tickValues(xTicks).tickSizeInner(-5.5).tickSizeOuter(0).tickFormat(''))
    .call(styleAxis)
  g.append('g').attr('transform', `translate(${l},0)`)
    .call(d3.axisLeft(y).tickValues(yTicks).tickSizeInner(-5.5).tickSizeOuter(0).tickPadding(6.5).tickFormat(yFmt))
    .call(styleAxis)
  g.append('g').attr('transform', `translate(${r},0)`)
    .call(d3.axisRight(y).tickValues(yTicks).tickSizeInner(-5.5).tickSizeOuter(0).tickFormat(''))
    .call(styleAxis)
  g.append('rect').attr('x', l).attr('y', t).attr('width', r - l).attr('height', b - t)
    .attr('fill', 'none').attr('stroke', '#000').attr('stroke-width', 1)
  return g
}

function clipFor(id, x0, y0, w, h) {
  defs.append('clipPath').attr('id', id).append('rect')
    .attr('x', x0).attr('y', y0).attr('width', w).attr('height', h)
  return `url(#${id})`
}

function plotClip(id, x, y) {
  const [l, r] = x.range()
  const [b, t] = y.range()
  return clipFor(id, l, t, r - l, b - t)
}

function drawSeries(parent, values, color, x, y) {
  const pts = values.map((v, i) => [i, v])
  const g = parent.append('g')
  g.append('path')
    .attr('d', d3.line().x(d => x(d[0])).y(d => y(d[1]))(pts))
    .attr('fill', 'none').attr('stroke', mpl[color]).attr('stroke-width', 1.3)
  g.selectAll('circle').data(pts).join('circle')
    .attr('cx', d => x(d[0])).attr('cy', d => y(d[1])).attr('r', 4.2)
    .attr('fill', mpl[color]).attr('stroke', '#000').attr('stroke-width', 0.7)
}

// ===== Panel 1: Learning Curves
const x1 = d3.scaleLinear([0, 100], [100, 720])
const y1 = d3.scaleLinear([0, 3], [402, 120])
const plot1 = svg.append('g').attr('clip-path', plotClip('clip1', x1, y1))
curveSeries.forEach((vals, i) => drawSeries(plot1, vals, curveColors[i], x1, y1))
drawFrame(x1, y1, stepTicks, lossTicks, d3.format('.1f'))
svg.append('text').attr('x', 410).attr('y', 112.3).attr('text-anchor', 'middle')
  .attr('font-size', titleFont).text('Learning Curves')
svg.append('text').attr('x', 410).attr('y', 446.5).attr('text-anchor', 'middle')
  .attr('font-size', tickFont).text('Step number')
svg.append('text').attr('transform', 'translate(58.5,261) rotate(-90)').attr('text-anchor', 'middle')
  .attr('font-size', tickFont).text('Loss')

// ===== Panel 2: Meta Learning Curve
const x2 = d3.scaleLinear([0, 100], [100, 720])
const y2 = d3.scaleLinear([0, 600], [740, 460])
const plot2 = svg.append('g').attr('clip-path', plotClip('clip2', x2, y2))
metaSeries.forEach((vals, i) => drawSeries(plot2, vals, metaColors[i], x2, y2))
drawFrame(x2, y2, metaXTicks, metaYTicks, d3.format('d'))
svg.append('text').attr('x', 410).attr('y', 452.3).attr('text-anchor', 'middle')
  .attr('font-size', titleFont).text('Meta Learning Curve')
svg.append('text').attr('x', 410).attr('y', 786).attr('text-anchor', 'middle')
  .attr('font-size', tickFont).text('Meta Iteration Number')
svg.append('text').attr('transform', 'translate(53.5,600) rotate(-90)').attr('text-anchor', 'middle')
  .attr('font-size', tickFont).text('Validation Loss')

// legend
const legend = svg.append('g')
legend.append('rect').attr('x', 110.5).attr('y', 469.5).attr('width', 241).attr('height', 152)
  .attr('fill', '#fff').attr('stroke', '#000').attr('stroke-width', 1)
const legendY = d3.scalePoint(metaNames, [485, 601])
metaNames.forEach((name, i) => {
  const yy = legendY(name)
  const c = mpl[metaColors[i]]
  legend.append('line').attr('x1', 123.5).attr('x2', 152.5).attr('y1', yy).attr('y2', yy)
    .attr('stroke', c).attr('stroke-width', 1.3)
  ;[123.5, 152.5].forEach(cx => legend.append('circle').attr('cx', cx).attr('cy', yy).attr('r', 4.2)
    .attr('fill', c).attr('stroke', '#000').attr('stroke-width', 0.7))
  legend.append('text').attr('x', 174).attr('y', yy + 7).attr('font-size', titleFont).text(name)
})

// ===== Panel 3: Fake Data
const imgX = d3.scaleLinear([0, 324], [100, 720])
const imgY = d3.scaleLinear([0, 100], [843, 843 + 100 * 620 / 324])
const bgGrey = '#878787'
const shade = d3.scaleLinear([-4, 0, 4], ['#000000', bgGrey, '#ffffff']).clamp(true)
const flt = defs.append('filter').attr('id', 'grain')
  .attr('color-interpolation-filters', 'sRGB')
flt.append('feGaussianBlur').attr('in', 'SourceGraphic').attr('stdDeviation', 3.2).attr('result', 'blur')
flt.append('feTurbulence').attr('type', 'fractalNoise').attr('baseFrequency', 0.55)
  .attr('numOctaves', 1).attr('seed', 5).attr('result', 'noise')
flt.append('feColorMatrix').attr('in', 'noise').attr('type', 'matrix')
  .attr('values', '1 0 0 0 0  1 0 0 0 0  1 0 0 0 0  0 0 0 0 1').attr('result', 'grey')
flt.append('feComposite').attr('in', 'blur').attr('in2', 'grey').attr('operator', 'arithmetic')
  .attr('k1', 0).attr('k2', 1).attr('k3', 1.5).attr('k4', -0.75)

const img = svg.append('g')
img.append('rect').attr('x', imgX(0)).attr('y', imgY(0))
  .attr('width', imgX(324) - imgX(0)).attr('height', imgY(100) - imgY(0)).attr('fill', bgGrey)
const cellW = imgX(4) - imgX(0), cellH = imgY(4) - imgY(0)
fakeRows.forEach(row => {
  fakeDigits.forEach((cells, col) => {
    const ox = 4 + col * 32, oy = 4 + row * 32
    const tx = imgX(ox), ty = imgY(oy)
    const clip = clipFor(`tile${row}_${col}`, tx, ty, imgX(28) - imgX(0), imgY(28) - imgY(0))
    const tile = img.append('g').attr('clip-path', clip).append('g').attr('filter', 'url(#grain)')
    tile.append('rect').attr('x', tx - 12).attr('y', ty - 12)
      .attr('width', imgX(28) - imgX(0) + 24).attr('height', imgY(28) - imgY(0) + 24).attr('fill', bgGrey)
    tile.selectAll('.cell').data(cells).join('rect').attr('class', 'cell')
      .attr('x', (d, k) => imgX(ox + (k % 7) * 4))
      .attr('y', (d, k) => imgY(oy + Math.floor(k / 7) * 4))
      .attr('width', cellW + 0.5).attr('height', cellH + 0.5)
      .attr('fill', d => shade(d))
  })
})
img.append('rect').attr('x', imgX(0)).attr('y', imgY(0))
  .attr('width', imgX(324) - imgX(0)).attr('height', imgY(100) - imgY(0))
  .attr('fill', 'none').attr('stroke', '#000').attr('stroke-width', 1.2)
svg.append('text').attr('x', 410).attr('y', 826).attr('text-anchor', 'middle')
  .attr('font-size', titleFont).text('Fake Data')
</script>
</body>
</html>
